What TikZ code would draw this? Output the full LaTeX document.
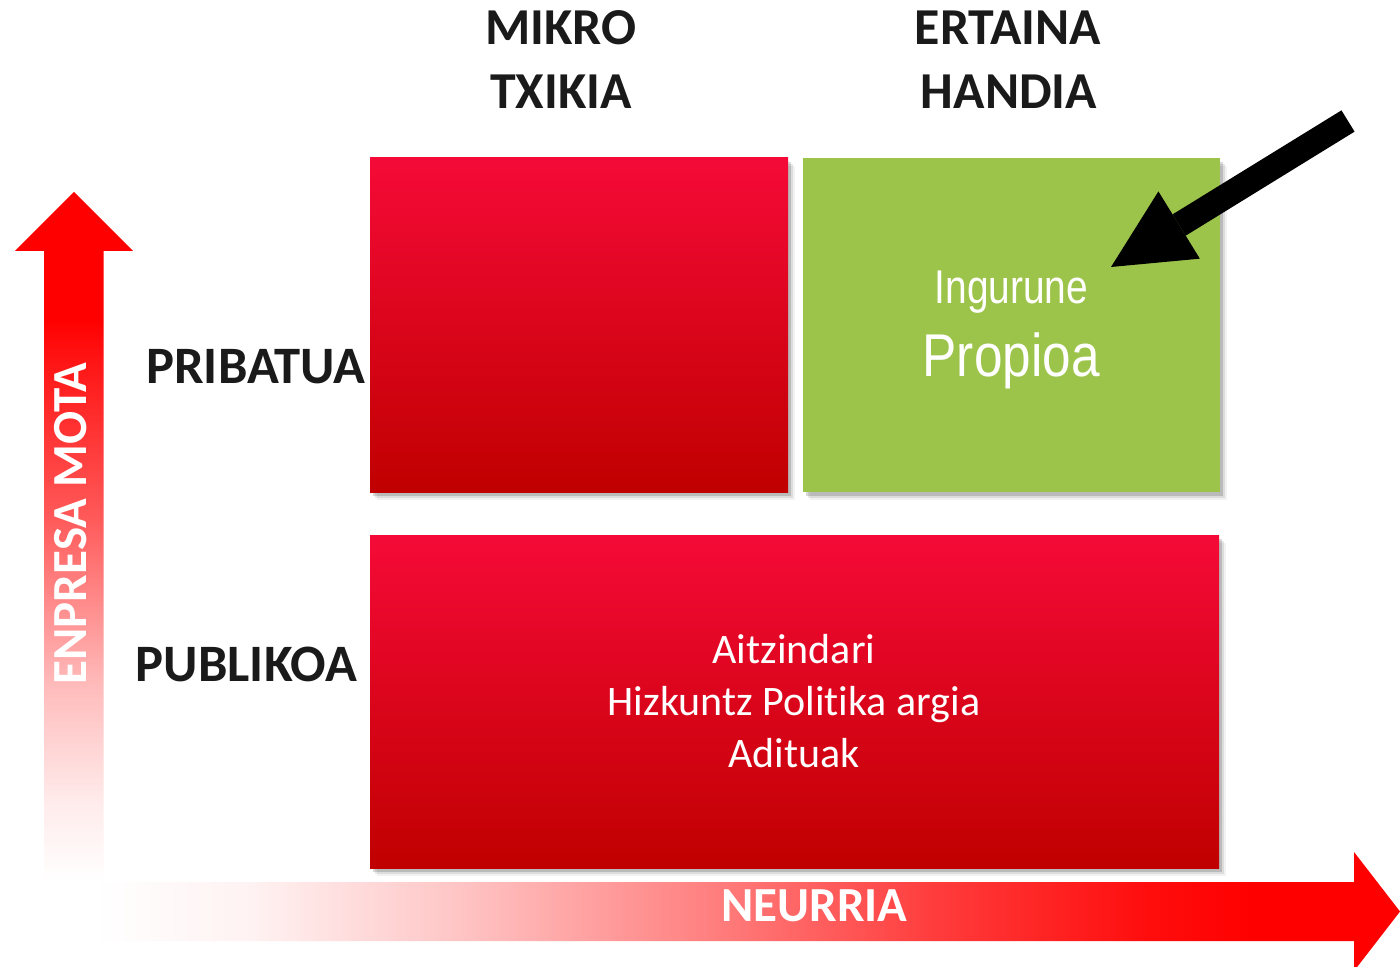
\documentclass[tikz,border=0pt]{standalone}
\usepackage{fontspec}
\setmainfont{Carlito}[Ligatures=NoCommon, Contextuals=NoAlternate]
\newfontfamily\narrowfont{Liberation Sans}
\usetikzlibrary{arrows.meta,shadows}
\definecolor{redtop}{RGB}{245,10,55}
\definecolor{redbot}{RGB}{192,0,0}
\definecolor{boxgreen}{RGB}{157,196,74}
\definecolor{labelink}{RGB}{26,26,26}
\pgfdeclareverticalshading{vfade}{100bp}{color(0bp)=(white); color(25bp)=(white); color(30.9bp)=(red!8); color(39.4bp)=(red!27); color(51.4bp)=(red!65); color(63.6bp)=(red!94); color(65.7bp)=(red); color(100bp)=(red)}
\pgfdeclarehorizontalshading{hfade}{100bp}{color(0bp)=(white); color(25bp)=(white); color(31bp)=(red!5); color(38.6bp)=(red!22); color(48.2bp)=(red!49); color(57bp)=(red!76); color(65.4bp)=(red!95); color(69.3bp)=(red); color(100bp)=(red)}
\tikzset{
  softshadow/.style={
    general shadow={shadow xshift=1.5pt, shadow yshift=-2pt, fill=black, opacity=0.15},
    general shadow={shadow xshift=2.5pt, shadow yshift=-3pt, fill=black, opacity=0.09},
    general shadow={shadow xshift=3.5pt, shadow yshift=-4pt, fill=black, opacity=0.05}},
  panel/.style={rectangle, inner sep=0pt, draw=none, softshadow},
  redpanel/.style={panel, top color=redtop, bottom color=redbot},
  greenpanel/.style={panel, fill=boxgreen},
  hdr/.style={font=\fontsize{25.9}{30}\bfseries, text=labelink, inner sep=0pt, anchor=base},
  rowlbl/.style={hdr, font=\fontsize{26.3}{30}\bfseries},
  axlabel/.style={font=\fontsize{24.5}{28}\bfseries, text=white, inner sep=0pt, anchor=base},
  boxtext/.style={font=\fontsize{21}{25}\selectfont, text=white, inner sep=0pt, anchor=base},
  greentext/.style={text=white, inner sep=0pt, anchor=base},
}
\begin{document}
\begin{tikzpicture}[x=0.5pt,y=-0.5pt]
\useasboundingbox (0,0) rectangle (1400,967);
\fill[white] (0,0) rectangle (1400,967);

% axis arrows
\shade[shading=vfade] (44,882) -- (44,251) -- (15,251) -- (74,192) -- (133,251) -- (103.5,251) -- (103.5,882) -- cycle;
\shade[shading=hfade] (94,882) -- (1354,882) -- (1354,852) -- (1400,911.5) -- (1354,971) -- (1354,941) -- (94,941) -- cycle;
\node[axlabel, rotate=90] (mota) at (86,523.5) {ENPRESA MOTA};
\node[axlabel] (neurria) at (814.5,921.7) {NEURRIA};

% panels
\node[redpanel, minimum width=209pt, minimum height=167pt] (mikro) at (579,325) {};
\node[greenpanel, minimum width=208.5pt, minimum height=167pt] (handia) at (1011.5,325) {};
\node[redpanel, minimum width=424.5pt, minimum height=166.5pt] (publiko) at (794.5,701.5) {};

% header labels
\node[hdr] (h1a) at (561,44.3) {MIKRO};
\node[hdr] (h1b) at (561,108.3) {TXIKIA};
\node[hdr] (h2a) at (1008,44.3) {ERTAINA};
\node[hdr] (h2b) at (1009,108.3) {HANDIA};
\node[rowlbl] (pri) at (256,383.3) {PRIBATUA};
\node[rowlbl] (pub) at (246.5,681.7) {PUBLIKOA};

% green panel text
\node[greentext, font=\narrowfont\fontsize{23.7}{28}\selectfont] (ing) at (1011.4,304) {\scalebox{0.82}[1]{Ingurune}};
\node[greentext, font=\narrowfont\fontsize{30.2}{34}\selectfont] (prop) at (1011.2,376.7) {\scalebox{0.85}[1]{Propioa}};

% public panel text
\node[boxtext] (t1) at (794,663) {Aitzindari};
\node[boxtext] (t2) at (794,715) {Hizkuntz Politika argia};
\node[boxtext] (t3) at (794,767) {Adituak};

% pointer arrow
\coordinate (ptail) at (1348,121);
\coordinate (ptip) at (1111,267);
\draw[line width=12.5pt, black, -{Triangle[length=40pt 0 1, width=39.5pt 0 1, line width=0pt]}] (ptail) -- (ptip);
\end{tikzpicture}
\end{document}
